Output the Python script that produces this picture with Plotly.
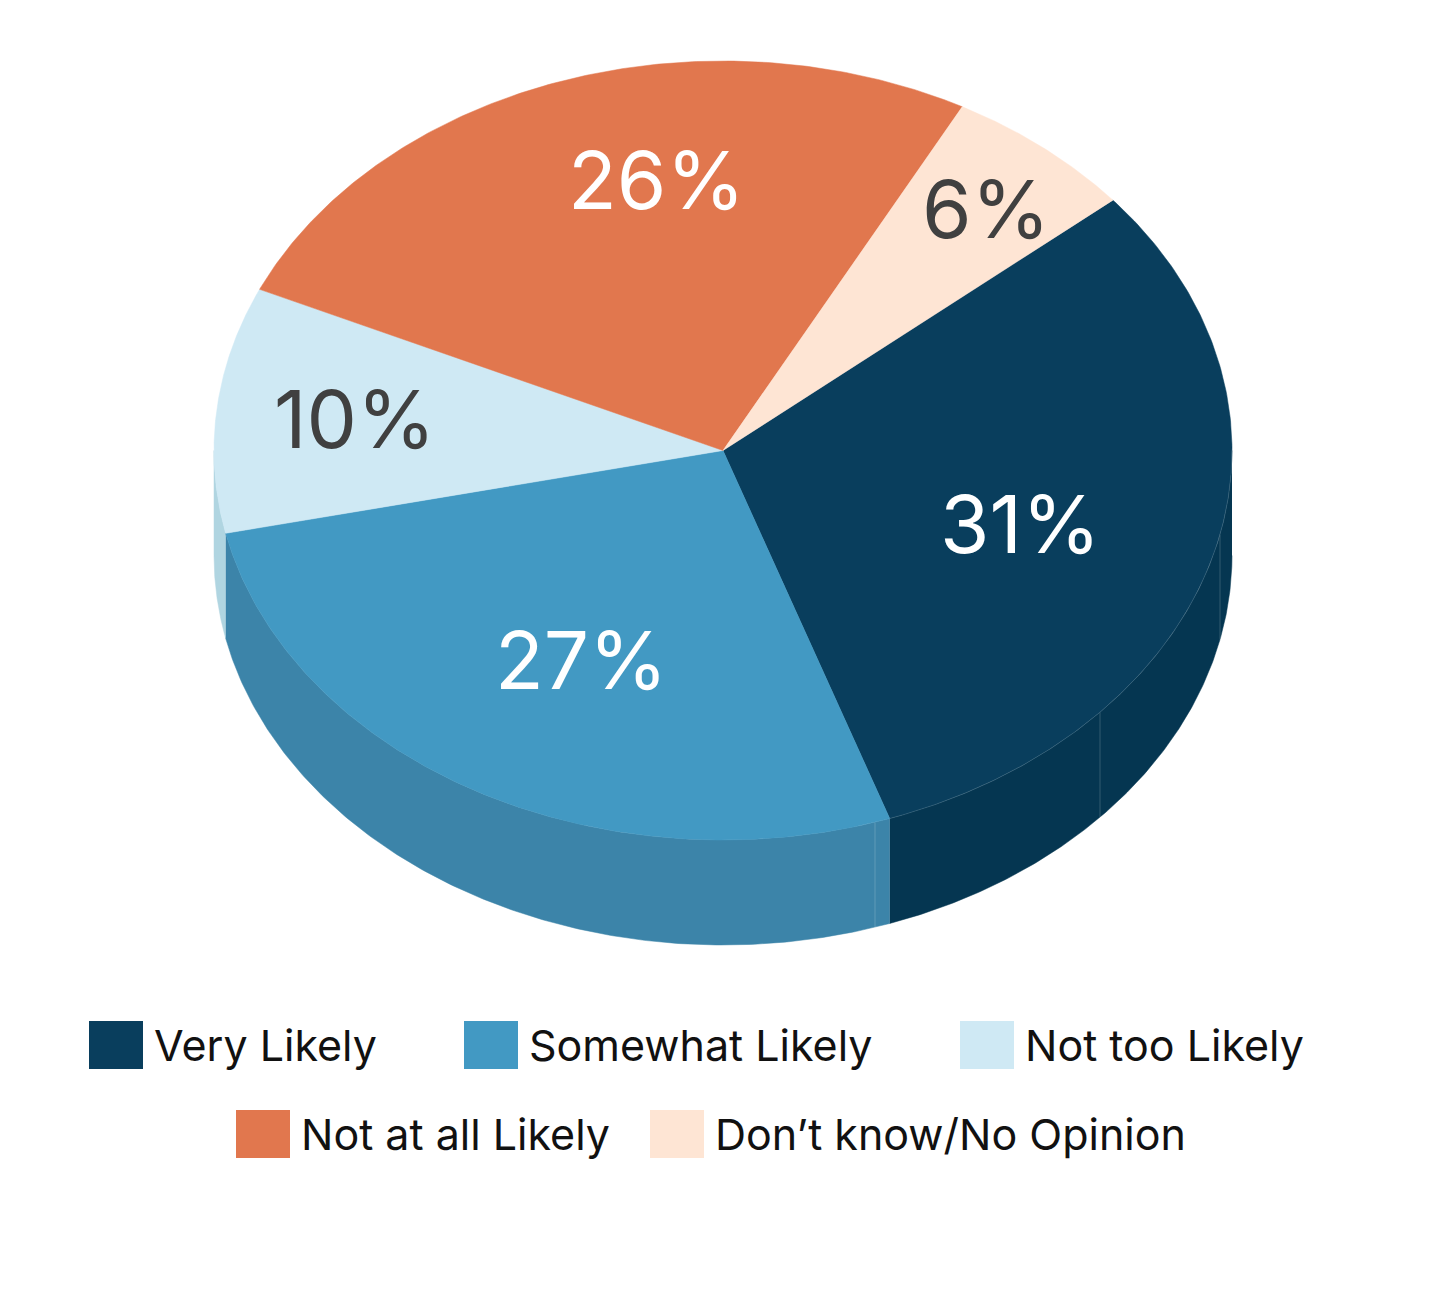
import numpy as np
import plotly.graph_objects as go

# the data, shares, labels as printed
categories = ["Very Likely", "Somewhat Likely", "Not too Likely", "Not at all Likely", "Don’t know/No Opinion"]
values = [30.8, 26.9, 10.2, 26.0, 6.1]
percent_labels = ["31%", "27%", "10%", "26%", "6%"]

top_colors = ["#093E5D", "#4299C3", "#CFE9F4", "#E1774E", "#FEE5D4"]
side_colors = ["#053651", "#3C84A9", "#B0D5E1", None, None]
label_colors = ["#FFFFFF", "#FFFFFF", "#404040", "#FFFFFF", "#404040"]

# pie geometry, all in pixels of the 1440x1290 page
cx, cy = 723, 450.5
rx, ry = 509, 389.5
depth = 105
start_angle = 50  # clockwise from 12 o'clock

label_x = [1020, 581, 355, 656, 986]
label_y = [523, 659, 418, 179, 208]
seam_x = [875, 1100, 1220]

# legend placement
swatch_x = [89, 464, 960, 236, 650]
swatch_y = [1021, 1021, 1021, 1110, 1110]
swatch_w, swatch_h = 54, 48

FONT = "Inter"


def ellipse(angles, drop=0):
    rad = np.radians(angles)
    return cx + rx * np.sin(rad), cy - ry * np.cos(rad) + drop


fig = go.Figure()

edges = start_angle + np.cumsum([0] + values) * 3.6

# side walls first, only the front half of the rim shows
for i, cat in enumerate(categories):
    a = max(edges[i], 90)
    b = min(edges[i + 1], 270)
    if a >= b:
        continue
    t = np.linspace(a, b, 200)
    x1, y1 = ellipse(t)
    x2, y2 = ellipse(t[::-1], depth)
    fig.add_trace(go.Scatter(
        x=np.r_[x1, x2], y=np.r_[y1, y2],
        mode="lines", fill="toself", fillcolor=side_colors[i],
        line=dict(color=side_colors[i], width=0.5),
        hoverinfo="skip", showlegend=False,
    ))

# thin seams on the wall
for sx in seam_x:
    ytop = cy + ry * np.sqrt(1 - ((sx - cx) / rx) ** 2)
    fig.add_trace(go.Scatter(
        x=[sx, sx], y=[ytop, ytop + depth], mode="lines",
        line=dict(color="rgba(255,255,255,0.18)", width=1),
        hoverinfo="skip", showlegend=False,
    ))

# top face
for i, cat in enumerate(categories):
    t = np.linspace(edges[i], edges[i + 1], 200)
    x1, y1 = ellipse(t)
    fig.add_trace(go.Scatter(
        x=np.r_[cx, x1, cx], y=np.r_[cy, y1, cy],
        mode="lines", fill="toself", fillcolor=top_colors[i],
        line=dict(color=top_colors[i], width=0.5),
        name=cat, text=f"{cat}: {percent_labels[i]}", hoverinfo="text", showlegend=False,
    ))

# faint light edge where the dark slice meets its wall
t = np.linspace(90, edges[1], 200)
x1, y1 = ellipse(t)
fig.add_trace(go.Scatter(
    x=x1, y=y1, mode="lines",
    line=dict(color="rgba(255,255,255,0.2)", width=0.7),
    hoverinfo="skip", showlegend=False,
))

# percent labels
for i, lab in enumerate(percent_labels):
    fig.add_annotation(
        x=label_x[i], y=label_y[i], text=lab, showarrow=False,
        font=dict(family=FONT, size=80, color=label_colors[i]),
        xanchor="center", yanchor="middle",
    )

# legend, two centred rows
for i, cat in enumerate(categories):
    fig.add_shape(
        type="rect", x0=swatch_x[i], x1=swatch_x[i] + swatch_w,
        y0=swatch_y[i], y1=swatch_y[i] + swatch_h,
        fillcolor=top_colors[i], line=dict(width=0),
    )
    fig.add_annotation(
        x=swatch_x[i] + swatch_w + 9, y=swatch_y[i] + swatch_h / 2, text=cat,
        showarrow=False, xanchor="left", yanchor="middle",
        font=dict(family=FONT, size=43, color="#111111"),
    )

fig.update_layout(
    width=1440, height=1290,
    margin=dict(l=0, r=0, t=0, b=0),
    paper_bgcolor="white", plot_bgcolor="white",
    xaxis=dict(range=[0, 1440], visible=False, fixedrange=True),
    yaxis=dict(range=[1290, 0], visible=False, fixedrange=True),
)

fig.write_html("out.html", config=dict(displayModeBar=False), post_script="document.body.style.margin='0';")
